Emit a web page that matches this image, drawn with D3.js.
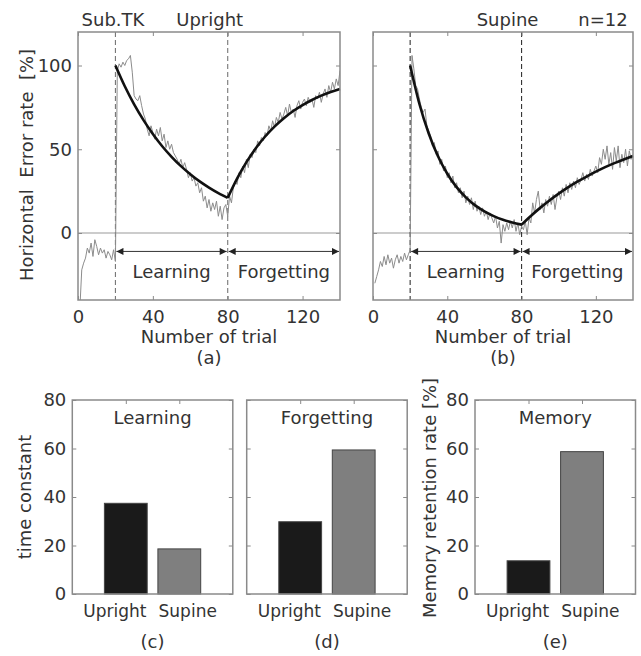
<!DOCTYPE html>
<meta charset="utf-8">
<style>
body { margin: 0; background: #fff; }
text { font-family: "DejaVu Sans", sans-serif; fill: #333; }
.frame { fill: none; stroke: #8a8a8a; stroke-width: 1.5px; }
.tick line { stroke: #8a8a8a; }
.domain { display: none; }
</style>
<body>
<script src="https://d3js.org/d3.v7.min.js"></script>
<script>

// raw error rate per trial (1..140)
var uprightRaw = [
  -45, -22, -18, -15, -9, -12, -6, -14, -4, -8, -13, -9, -12, -10, -15, -11, -13, -16, -10, -17,
  97, 101, 99, 102, 100, 103, 104, 106, 96, 82, 80, 79, 82, 76, 71, 68, 62, 58, 64, 60,
  56, 62, 58, 63, 55, 59, 51, 55, 50, 53, 48, 46, 44, 41, 44, 39, 42, 38, 33, 36,
  31, 33, 28, 30, 24, 27, 19, 22, 15, 20, 13, 18, 14, 19, 10, 16, 8, 15, 17, 10,
  22, 18, 27, 31, 29, 36, 33, 40, 36, 44, 39, 47, 45, 50, 48, 55, 52, 57, 55, 60,
  58, 64, 61, 67, 63, 69, 66, 72, 68, 71, 75, 70, 77, 72, 74, 69, 76, 79, 74, 78,
  80, 76, 81, 78, 80, 75, 82, 80, 84, 78, 83, 86, 81, 88, 84, 90, 86, 92, 88, 97
];
var supineRaw = [
  -30, -26, -22, -17, -20, -14, -19, -13, -18, -15, -21, -16, -13, -18, -14, -17, -12, -16, -13, -10,
  106, 98, 88, 86, 80, 75, 72, 74, 64, 61, 58, 52, 54, 47, 49, 41, 44, 37, 40, 33,
  36, 30, 34, 27, 30, 24, 27, 21, 25, 18, 22, 17, 21, 14, 19, 13, 16, 11, 15, 10,
  13, 8, 12, 9, 6, 10, 3, 7, -6, 5, 1, 6, 2, 7, 3, 8, 1, 6, -1, 4,
  2, 7, -1, 9, 6, 18, 12, 20, 25, 14, 18, 12, 20, 16, 22, 17, 23, 14, 21, 25,
  20, 27, 22, 29, 24, 30, 26, 31, 27, 33, 29, 32, 36, 31, 35, 32, 38, 34, 37, 40,
  36, 45, 41, 50, 44, 52, 41, 48, 38, 51, 43, 52, 39, 47, 42, 50, 40, 49, 44, 46
];

// fitted curves, read every 5 trials
var learnTrials = [20, 25, 30, 35, 40, 45, 50, 55, 60, 65, 70, 75, 80];
var forgetTrials = [80, 85, 90, 95, 100, 105, 110, 115, 120, 125, 130, 135, 140];
var uprightFitLearn = [100, 87.6, 76.8, 67.4, 59.1, 51.8, 45.5, 39.9, 35.1, 30.8, 27.1, 23.8, 21];
var uprightFitForget = [21, 32.5, 42.3, 50.6, 57.6, 63.5, 68.5, 72.8, 76.4, 79.4, 82, 84.2, 86];
var supineFitLearn = [100, 77, 59.4, 45.8, 35.4, 27.4, 21.3, 16.5, 12.9, 10.1, 7.9, 6.3, 5];
var supineFitForget = [5, 10.2, 15, 19.4, 23.5, 27.2, 30.6, 33.7, 36.6, 39.3, 41.7, 43.9, 46];

var trialTicks = [0, 40, 80, 120];
var errorTicks = [0, 50, 100];
var phaseStart = 20, phaseSwitch = 80, phaseEnd = 140;

// bar panels
var postures = ["Upright", "Supine"];
var learningTau = [37.4, 18.6];
var forgettingTau = [29.8, 59.4];
var memoryRate = [13.7, 58.7];
var barTicks = [0, 20, 40, 60, 80];
var barColors = ["#1a1a1a", "#7f7f7f"];

var svg = d3.select("body").append("svg")
    .attr("width", 641)
    .attr("height", 656);

var defs = svg.append("defs");
defs.append("marker")
    .attr("id", "head")
    .attr("viewBox", "0 0 10 10")
    .attr("refX", 10).attr("refY", 5)
    .attr("markerWidth", 9).attr("markerHeight", 7)
    .attr("markerUnits", "userSpaceOnUse")
    .attr("orient", "auto-start-reverse")
  .append("path")
    .attr("d", "M0,0L10,5L0,10z")
    .attr("fill", "#222");

function trialPanel(id, left, right, raw, fits, dashColor) {
  var top = 32, bottom = 300;
  var x = d3.scaleLinear().domain([0, 140]).range([left, right]);
  var y = d3.scaleLinear().domain([-40, 120]).range([bottom, top]);
  var g = svg.append("g");

  defs.append("clipPath").attr("id", "clip" + id)
    .append("rect").attr("x", left).attr("y", top)
    .attr("width", right - left).attr("height", bottom - top);

  // zero line
  g.append("line")
      .attr("x1", left).attr("x2", right)
      .attr("y1", y(0)).attr("y2", y(0))
      .attr("stroke", "#999").attr("stroke-width", 1.2);

  // phase boundaries
  [phaseStart, phaseSwitch].forEach(function(t) {
    g.append("line")
        .attr("x1", x(t)).attr("x2", x(t))
        .attr("y1", top).attr("y2", bottom)
        .attr("stroke", dashColor).attr("stroke-width", 1.1)
        .attr("stroke-dasharray", "5,3");
  });

  var rawLine = d3.line()
      .x(function(d, i) { return x(i + 1); })
      .y(function(d) { return y(d); });
  g.append("path")
      .datum(raw)
      .attr("clip-path", "url(#clip" + id + ")")
      .attr("d", rawLine)
      .attr("fill", "none")
      .attr("stroke", "#8c8c8c")
      .attr("stroke-width", 1);

  var fitLine = d3.line()
      .x(function(d) { return x(d[0]); })
      .y(function(d) { return y(d[1]); })
      .curve(d3.curveMonotoneX);
  fits.forEach(function(f) {
    g.append("path")
        .datum(d3.zip(f[0], f[1]))
        .attr("d", fitLine)
        .attr("fill", "none")
        .attr("stroke", "#111")
        .attr("stroke-width", 2.6);
  });

  // arrows and phase labels
  var arrowY = y(-11);
  [[phaseStart, phaseSwitch, "Learning"], [phaseSwitch, phaseEnd, "Forgetting"]].forEach(function(p) {
    g.append("line")
        .attr("x1", x(p[0]) + 1).attr("x2", x(p[1]) - 1)
        .attr("y1", arrowY).attr("y2", arrowY)
        .attr("stroke", "#333").attr("stroke-width", 1)
        .attr("marker-start", "url(#head)")
        .attr("marker-end", "url(#head)");
    g.append("text")
        .attr("x", (x(p[0]) + x(p[1])) / 2)
        .attr("y", y(-27))
        .attr("text-anchor", "middle")
        .attr("font-size", "18px")
        .text(p[2]);
  });

  // axes, MATLAB style inward ticks
  g.append("g")
      .attr("transform", "translate(0," + bottom + ")")
      .call(d3.axisBottom(x).tickValues(trialTicks).tickSize(-4).tickPadding(10))
      .call(function(a) { a.selectAll("text").attr("font-size", "18px").attr("fill", "#333"); });
  g.append("g")
      .attr("transform", "translate(0," + top + ")")
      .call(d3.axisTop(x).tickValues(trialTicks).tickSize(-4).tickFormat(""));
  var yl = g.append("g")
      .attr("transform", "translate(" + left + ",0)")
      .call(d3.axisLeft(y).tickValues(errorTicks).tickSize(-4).tickPadding(6)
        .tickFormat(id === "a" ? d3.format("d") : ""));
  yl.selectAll("text").attr("font-size", "18px").attr("fill", "#333");
  g.append("g")
      .attr("transform", "translate(" + right + ",0)")
      .call(d3.axisRight(y).tickValues(errorTicks).tickSize(-4).tickFormat(""));

  g.append("rect").attr("class", "frame")
      .attr("x", left).attr("y", top)
      .attr("width", right - left).attr("height", bottom - top);

  g.append("text")
      .attr("x", (left + right) / 2).attr("y", 343)
      .attr("text-anchor", "middle").attr("font-size", "18px")
      .text("Number of trial");
  g.append("text")
      .attr("x", (left + right) / 2).attr("y", 364)
      .attr("text-anchor", "middle").attr("font-size", "18px")
      .text("(" + id + ")");
  return x;
}

var xa = trialPanel("a", 78, 340, uprightRaw,
    [[learnTrials, uprightFitLearn], [forgetTrials, uprightFitForget]], "#777");
var xb = trialPanel("b", 373, 633, supineRaw,
    [[learnTrials, supineFitLearn], [forgetTrials, supineFitForget]], "#333");

svg.append("text")
    .attr("transform", "translate(33,165) rotate(-90)")
    .attr("text-anchor", "middle").attr("font-size", "18px")
    .attr("xml:space", "preserve")
    .style("white-space", "pre")
    .text("Horizontal  Error rate  [%]");

function header(x, label) {
  svg.append("text")
      .attr("x", x).attr("y", 26)
      .attr("text-anchor", "middle").attr("font-size", "18px")
      .text(label);
}
header(113, "Sub.TK");
header(xa(phaseSwitch) - 18, "Upright");
header(xb(phaseSwitch) - 14, "Supine");
header(603, "n=12");

function barPanel(id, left, title, values, showLabels) {
  var width = 160.5, top = 400, bottom = 594;
  var x = d3.scaleLinear().domain([0, 3]).range([left, left + width]);
  var y = d3.scaleLinear().domain([0, 80]).range([bottom, top]);
  var g = svg.append("g");

  g.selectAll("rect.bar")
    .data(values)
    .enter().append("rect")
      .attr("class", "bar")
      .attr("x", function(d, i) { return x(i + 1 - 0.4); })
      .attr("width", x(0.8) - x(0))
      .attr("y", function(d) { return y(d); })
      .attr("height", function(d) { return y(0) - y(d); })
      .attr("fill", function(d, i) { return barColors[i]; })
      .attr("stroke", "#444")
      .attr("stroke-width", 1);

  var yl = g.append("g")
      .attr("transform", "translate(" + left + ",0)")
      .call(d3.axisLeft(y).tickValues(barTicks).tickSize(-4).tickPadding(6)
        .tickFormat(showLabels ? d3.format("d") : ""));
  yl.selectAll("text").attr("font-size", "18px").attr("fill", "#333");
  g.append("g")
      .attr("transform", "translate(" + (left + width) + ",0)")
      .call(d3.axisRight(y).tickValues(barTicks).tickSize(-4).tickFormat(""));
  g.append("g")
      .attr("transform", "translate(0," + top + ")")
      .call(d3.axisTop(x).tickValues([1, 2]).tickSize(-4).tickFormat(""));

  g.append("rect").attr("class", "frame")
      .attr("x", left).attr("y", top)
      .attr("width", width).attr("height", bottom - top);

  g.append("text")
      .attr("x", x(1.5)).attr("y", top + 24)
      .attr("text-anchor", "middle").attr("font-size", "18px")
      .text(title);

  g.selectAll("text.cat")
    .data(postures)
    .enter().append("text")
      .attr("class", "cat")
      .attr("x", function(d, i) { return x(1.5) + (i === 0 ? -6 : 6); })
      .attr("y", 617)
      .attr("text-anchor", function(d, i) { return i === 0 ? "end" : "start"; })
      .attr("font-size", "17px")
      .text(function(d) { return d; });

  g.append("text")
      .attr("x", x(1.5)).attr("y", 648)
      .attr("text-anchor", "middle").attr("font-size", "18px")
      .text("(" + id + ")");
}

barPanel("c", 72.3, "Learning", learningTau, true);
barPanel("d", 246.7, "Forgetting", forgettingTau, false);
barPanel("e", 475, "Memory", memoryRate, true);

svg.append("text")
    .attr("transform", "translate(31,497) rotate(-90)")
    .attr("text-anchor", "middle").attr("font-size", "18px")
    .text("time constant");
svg.append("text")
    .attr("transform", "translate(436,498) rotate(-90)")
    .attr("text-anchor", "middle").attr("font-size", "18px")
    .text("Memory retention rate [%]");

</script>
</body>
